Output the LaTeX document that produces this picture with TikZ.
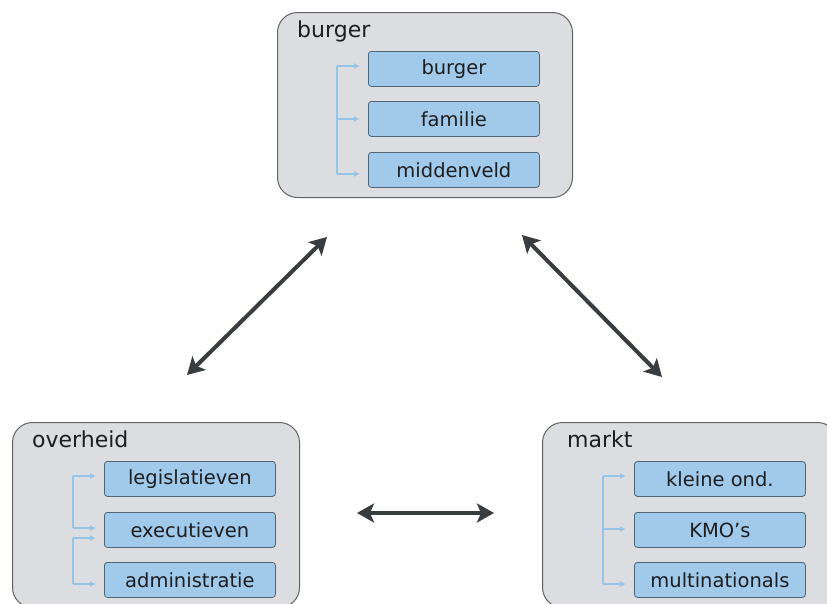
\documentclass[tikz,border=0pt]{standalone}
\usepackage{fontspec}
\setmainfont{DejaVu Sans}
\usetikzlibrary{arrows.meta}
\definecolor{panelfill}{RGB}{220,221,225}
\definecolor{paneledge}{RGB}{95,97,100}
\definecolor{itemfill}{RGB}{160,201,234}
\definecolor{itemedge}{RGB}{85,100,115}
\definecolor{linkblue}{RGB}{150,196,230}
\definecolor{bigarrow}{RGB}{58,61,64}
\definecolor{ink}{RGB}{30,30,32}
\begin{document}
\begin{tikzpicture}[x=1pt,y=-1pt,
  panel/.style={draw=paneledge,line width=1pt,fill=panelfill,rounded corners=20pt,
    anchor=north west,minimum width=295pt,minimum height=185pt,inner sep=0pt},
  paneltitle/.style={anchor=base west,font=\fontsize{22}{26}\selectfont,text=ink,inner sep=0pt},
  item/.style={draw=itemedge,line width=0.8pt,fill=itemfill,rounded corners=3pt,
    anchor=north west,minimum width=171pt,minimum height=35pt,inner sep=0pt,
    font=\fontsize{19.5}{23}\selectfont,text=ink},
  trunk/.style={draw=linkblue,line width=1.8pt},
  link/.style={draw=linkblue,line width=1.8pt,-{Latex[length=6pt,width=6pt]}},
  rel/.style={draw=bigarrow,line width=4pt,
    {Stealth[length=17pt,width=19pt,inset=4pt]}-{Stealth[length=17pt,width=19pt,inset=4pt]}}]
\useasboundingbox (0,0) rectangle (827,603);
\clip (0,0) rectangle (827,603);

% burger panel
\node[panel] (pb) at (277,12) {};
\node[paneltitle] (tb) at (297,37) {burger};
\node[item] (b1) at (368,51) {burger};
\node[item] (b2) at (368,101) {familie};
\node[item] (b3) at (368,152) {middenveld};
\coordinate (bt) at (337,66);
\coordinate (bm) at (337,119);
\coordinate (bb) at (337,174);
\draw[trunk] (bt) -- (bb);
\draw[link] (bt) -- ([xshift=-8pt]bt -| b1.west);
\draw[link] (bm) -- ([xshift=-8pt]bm -| b2.west);
\draw[link] (bb) -- ([xshift=-8pt]bb -| b3.west);

% overheid panel
\node[panel,minimum width=287pt] (po) at (12,422) {};
\node[paneltitle] (to) at (32,447) {overheid};
\node[item] (o1) at (104,461) {legislatieven};
\node[item] (o2) at (104,512) {executieven};
\node[item] (o3) at (104,562) {administratie};
\coordinate (ot1) at (73,476);
\coordinate (ob1) at (73,528);
\coordinate (ot2) at (73,538);
\coordinate (ob2) at (73,584);
\draw[trunk] (ot1) -- (ob1);
\draw[trunk] (ot2) -- (ob2);
\draw[link] (ot1) -- ([xshift=-8pt]ot1 -| o1.west);
\draw[link] (ob1) -- ([xshift=-8pt]ob1 -| o2.west);
\draw[link] (ot2) -- ([xshift=-8pt]ot2 -| o2.west);
\draw[link] (ob2) -- ([xshift=-8pt]ob2 -| o3.west);

% markt panel
\node[panel] (pm) at (542,422) {};
\node[paneltitle] (tm) at (567,447) {markt};
\node[item] (m1) at (634,461) {kleine ond.};
\node[item] (m2) at (634,512) {KMO’s};
\node[item] (m3) at (634,562) {multinationals};
\coordinate (mt) at (603,476);
\coordinate (mm) at (603,529);
\coordinate (mb) at (603,584);
\draw[trunk] (mt) -- (mb);
\draw[link] (mt) -- ([xshift=-8pt]mt -| m1.west);
\draw[link] (mm) -- ([xshift=-8pt]mm -| m2.west);
\draw[link] (mb) -- ([xshift=-8pt]mb -| m3.west);

% relations between the three spheres
\coordinate (rbl) at (327,237);
\coordinate (rol) at (187,375);
\coordinate (rbr) at (522,235);
\coordinate (rmr) at (662,377);
\coordinate (rom) at (357,513);
\coordinate (rmo) at (494,513);
\draw[rel] (rol) -- (rbl);
\draw[rel] (rbr) -- (rmr);
\draw[rel] (rom) -- (rmo);
\end{tikzpicture}
\end{document}
